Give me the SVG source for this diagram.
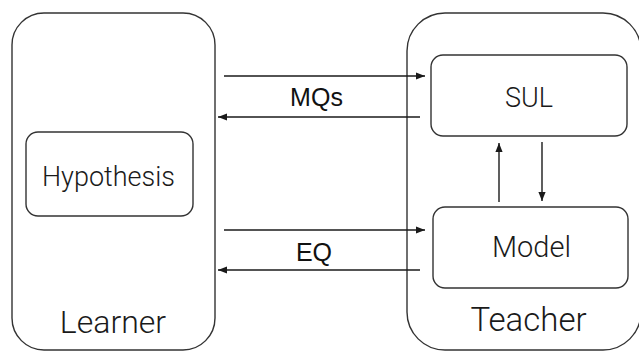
<svg xmlns="http://www.w3.org/2000/svg" width="639" height="352" viewBox="0 0 639 352">
  <style>
    .frame { fill: #ffffff; stroke: #333333; stroke-width: 1.4; }
    .box { fill: #ffffff; stroke: #333333; stroke-width: 1.4; }
    .link { fill: none; stroke: #1a1a1a; stroke-width: 1.4; marker-end: url(#tip); }
    .light { font-family: Roboto, "Liberation Sans", sans-serif; font-weight: 300; fill: #1a1a1a; text-anchor: middle; }
    .label { font-family: "Liberation Sans", Arial, sans-serif; font-size: 25px; fill: #111111; text-anchor: middle; }
  </style>
  <defs>
    <marker id="tip" viewBox="0 0 10 8" refX="10" refY="4" markerWidth="9" markerHeight="7.5" markerUnits="userSpaceOnUse" orient="auto">
      <path d="M0,0 L10,4 L0,8 z" fill="#1a1a1a"/>
    </marker>
  </defs>

  <g id="learner">
    <rect class="frame" x="12" y="13" width="203" height="337" rx="32" ry="32"/>
    <text class="light" x="113" y="333" font-size="32">Learner</text>
  </g>

  <g id="teacher">
    <rect class="frame" x="407" y="13" width="234" height="337" rx="38" ry="38"/>
    <text class="light" x="528.5" y="331" font-size="33">Teacher</text>
  </g>

  <g id="hypothesis">
    <rect class="box" x="26" y="132" width="167" height="84" rx="12" ry="12"/>
    <text class="light" x="108.5" y="186" font-size="27">Hypothesis</text>
  </g>

  <g id="sul">
    <rect class="box" x="431" y="55" width="196" height="81" rx="12" ry="12"/>
    <text class="light" x="529" y="107" font-size="27">SUL</text>
  </g>

  <g id="model">
    <rect class="box" x="433" y="207" width="195" height="81" rx="12" ry="12"/>
    <text class="light" x="531.5" y="257" font-size="29">Model</text>
  </g>

  <g id="connectors">
    <line class="link" x1="224" y1="76" x2="425" y2="76"/>
    <line class="link" x1="420" y1="117" x2="218" y2="117"/>
    <line class="link" x1="224" y1="230" x2="425" y2="230"/>
    <line class="link" x1="420" y1="270" x2="218" y2="270"/>
    <line class="link" x1="499" y1="202" x2="499" y2="143"/>
    <line class="link" x1="542" y1="142" x2="542" y2="201"/>
    <text class="label" x="316.5" y="106">MQs</text>
    <text class="label" x="314" y="261">EQ</text>
  </g>
</svg>
